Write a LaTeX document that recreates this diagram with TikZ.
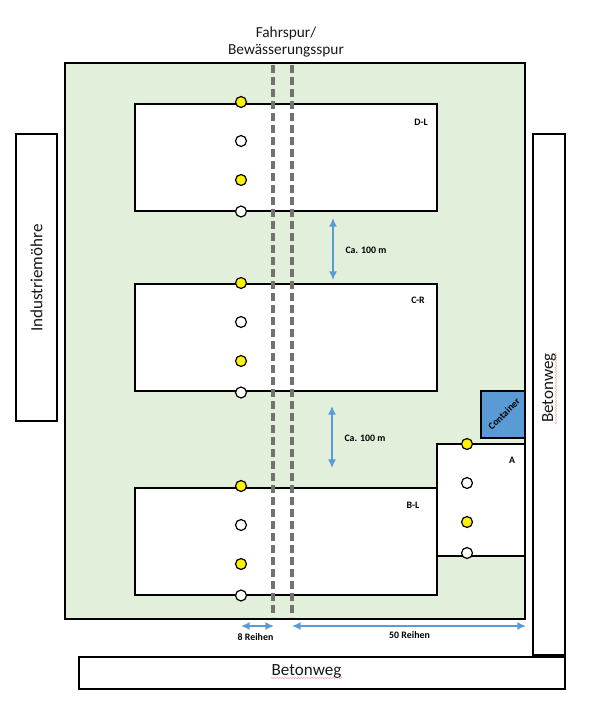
\documentclass[tikz,border=0pt]{standalone}
\usepackage{fontspec}
\setmainfont{Carlito}
\usetikzlibrary{arrows.meta,decorations.pathmorphing}
\definecolor{minegreen}{RGB}{226,239,218}
\definecolor{mineblue}{RGB}{91,155,213}
\definecolor{minegray}{RGB}{118,113,113}
\definecolor{minered}{RGB}{235,120,120}
\begin{document}
\begin{tikzpicture}[x=0.75pt,y=-0.75pt,
            box/.style={draw=black,line width=1.5pt,fill=white},
            big/.style={font=\fontsize{12.8pt}{15pt}\selectfont,text=black!90},
            head/.style={font=\fontsize{11.5pt}{14pt}\selectfont,text=black!90},
            small/.style={font=\fontsize{7.4pt}{9pt}\selectfont\bfseries},
            yellowdot/.style={circle,draw=black,line width=0.9pt,fill=yellow,
                              inner sep=0pt,minimum size=8.2pt},
            whitedot/.style={circle,draw=black,line width=0.9pt,fill=white,
                             inner sep=0pt,minimum size=8.2pt},
            track/.style={minegray,line width=2.6pt,dash pattern=on 6pt off 3pt},
            span/.style={{Latex[length=6.5pt,width=6pt]}-{Latex[length=6.5pt,width=6pt]},
                         mineblue,line width=1.1pt},
            squiggle/.style={minered,line width=0.3pt,
                             decorate,decoration={snake,amplitude=0.3pt,segment length=2pt}}]
        \useasboundingbox (0,0) rectangle (589,713);
        % field and strips
        \draw[box,fill=minegreen] (65,63) rectangle (525,619);
        \draw[box] (16,134) rectangle (57,421);
        \draw[box] (533,134) rectangle (565,655);
        \draw[box] (79,657) rectangle (565,689);
        % plots
        \draw[box] (135,104) rectangle (437,211);
        \draw[box] (135,284) rectangle (437,391);
        \draw[box] (135,488) rectangle (437,595);
        \draw[box] (437,444) rectangle (525,556);
        \draw[box,fill=mineblue] (481,391) rectangle (525,438);
        % tracks
        \coordinate (trackAtop) at (273,65);
        \coordinate (trackAbot) at (273,617);
        \coordinate (trackBtop) at (292,65);
        \coordinate (trackBbot) at (292,617);
        \draw[track] (trackAtop) -- (trackAbot);
        \draw[track] (trackBtop) -- (trackBbot);
        % sampling points
        \foreach \name/\y in {d/102,c/283,b/486}{
          \node[yellowdot] (\name1) at (241,\y) {};
          \node[whitedot] (\name2) at (241,\y+39) {};
          \node[yellowdot] (\name3) at (241,\y+78) {};
          \node[whitedot] (\name4) at (241,\y+109.5) {};
        }
        \node[yellowdot] (a1) at (467,444) {};
        \node[whitedot] (a2) at (467,483) {};
        \node[yellowdot] (a3) at (467,522) {};
        \node[whitedot] (a4) at (467,553) {};
        % distances
        \coordinate (gapDtop) at (333,218);
        \coordinate (gapDbot) at (333,280);
        \coordinate (gapCtop) at (332,406);
        \coordinate (gapCbot) at (332,468);
        \coordinate (rowsAl) at (241,626);
        \coordinate (rowsAr) at (274,626);
        \coordinate (rowsBl) at (292,626);
        \coordinate (rowsBr) at (526,626);
        \draw[span] (gapDtop) -- (gapDbot);
        \draw[span] (gapCtop) -- (gapCbot);
        \draw[span] (rowsAl) -- (rowsAr);
        \draw[span] (rowsBl) -- (rowsBr);
        % labels
        \node[head] (spur1) at (286,33) {Fahrspur/};
        \node[head] (spur2) at (286,51) {Bewässerungsspur};
        \node[big] at (36.5,278) [rotate=90] (rohr) {Industriemöhre};
        \node[big] at (549,388) [rotate=90] (wegR) {Betonweg};
        \node[big] (wegB) at (306.5,671) {Betonweg};
        \node[small] (labD) at (421,122) {D-L};
        \node[small] (labC) at (418,300) {C-R};
        \node[small] (labB) at (413,505) {B-L};
        \node[small] (labA) at (512,460) {A};
        \node[small,rotate=45] (cont) at (504,414) {Container};
        \node[small] (gapD) at (366,250) {Ca. 100 m};
        \node[small] (gapC) at (365,438) {Ca. 100 m};
        \node[small] (rowsA) at (255.5,637) {8 Reihen};
        \node[small] (rowsB) at (409.5,635) {50 Reihen};
        % spelling marks
        \coordinate (markRa) at (556,424);
        \coordinate (markRb) at (556,352);
        \coordinate (markBa) at (271,678);
        \coordinate (markBb) at (343,678);
        \draw[squiggle] (markRa) -- (markRb);
        \draw[squiggle] (markBa) -- (markBb);
\end{tikzpicture}
\end{document}
